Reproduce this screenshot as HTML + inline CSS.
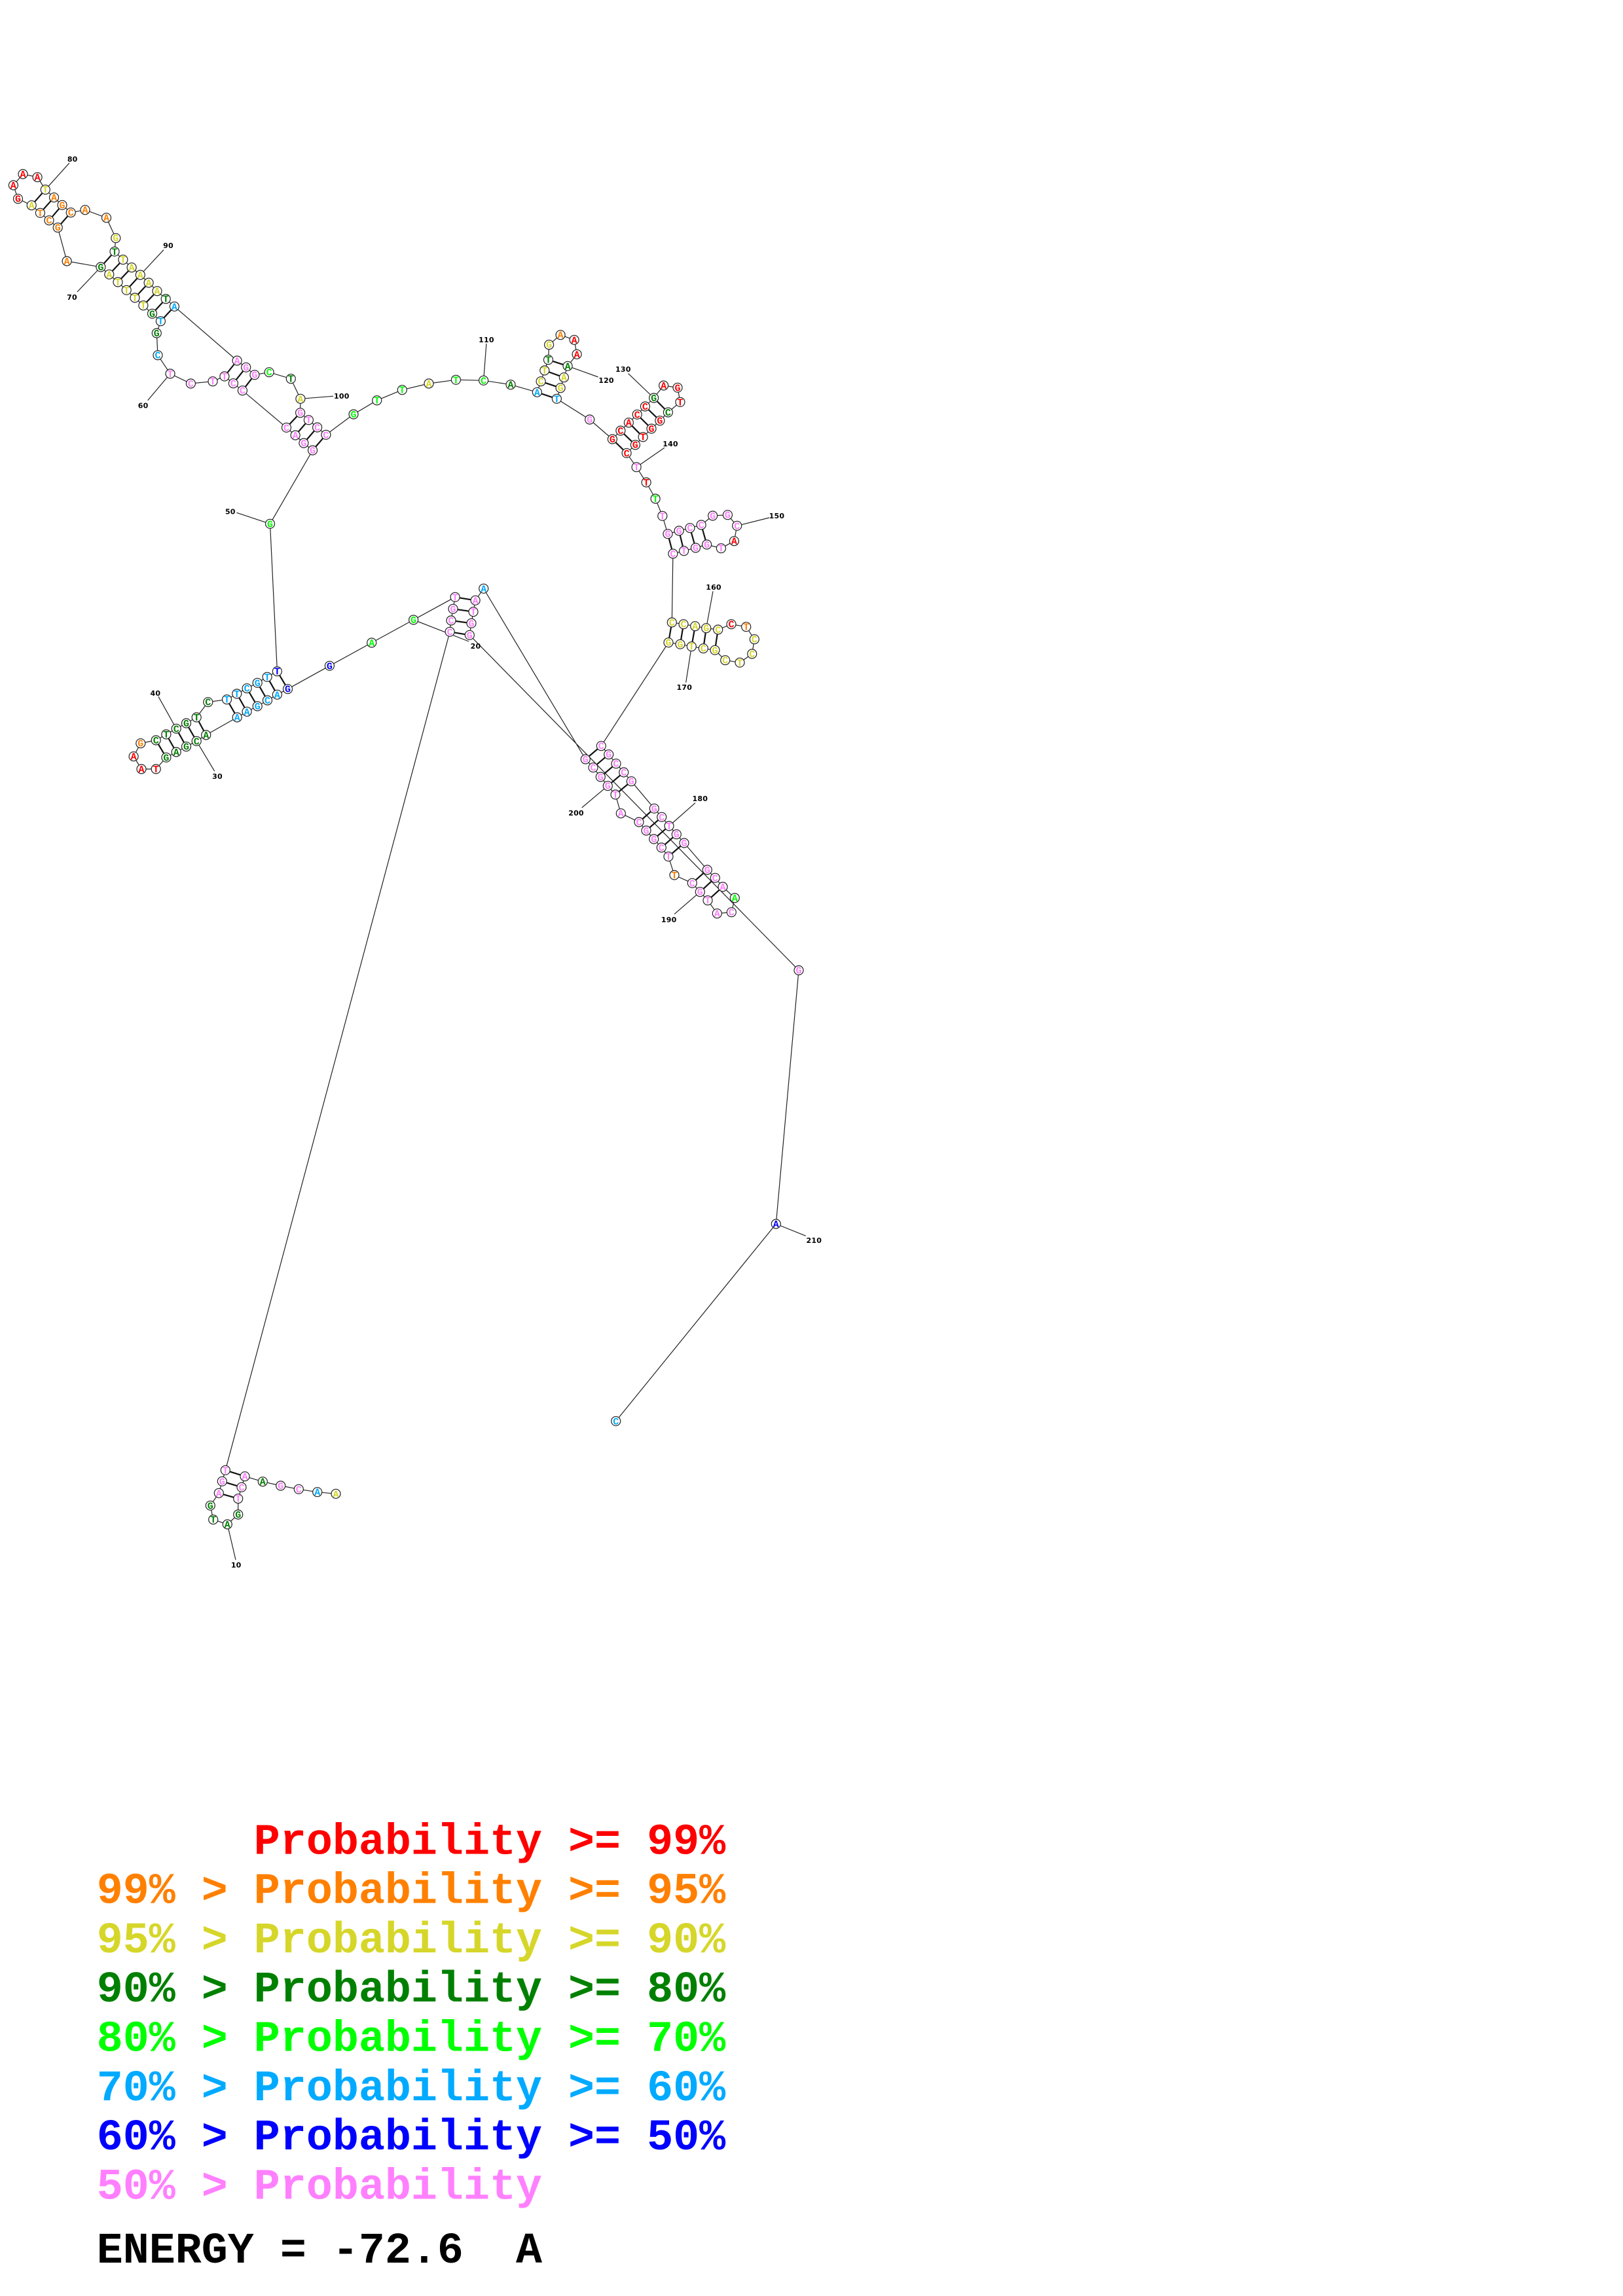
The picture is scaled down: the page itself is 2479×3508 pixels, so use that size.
<!DOCTYPE html>
<html><head><meta charset="utf-8"><style>
html,body{margin:0;padding:0;background:#fff}
svg{display:block}
circle{fill:#fff;stroke:#222;stroke-width:1.2}
.n text{font:bold 15px "Liberation Mono",monospace;text-anchor:middle}
.l text{font:bold 11px "DejaVu Sans",sans-serif;text-anchor:middle;fill:#000;letter-spacing:.2px}
.k text{font:bold 66.7px "Liberation Mono",monospace;white-space:pre}
.r{fill:#f00}.o{fill:#ff8000}.y{fill:#d6d62a}.d{fill:#008000}.g{fill:#0f0}.s{fill:#0af}.b{fill:#00f}.p{fill:#ff80ff}
</style></head><body>
<svg xmlns="http://www.w3.org/2000/svg" width="2479" height="3508" viewBox="0 0 2479 3508">
<rect width="2479" height="3508" fill="#fff"/>
<polyline fill="none" stroke="#222" stroke-width="1.2" points="513,2282.3 484.7,2279.7 456.3,2275.3 428.7,2270 401.3,2263.7 374,2255.7 369,2272.3 363.7,2289.7 363.7,2314 347.3,2329 325.7,2321.7 321.3,2300.3 334.3,2281.3 339.3,2263.3 344.3,2246.3 687.1,965.3 689,948 692,930.3 695.1,912.3 631.6,947 567.7,982 503.4,1017.3 439.5,1052.7 423.4,1061.3 408.5,1070 393.2,1079 377.1,1087.3 362.2,1096 314.7,1123 300.2,1132.3 284.5,1140.7 269.2,1149 253.9,1157.3 238.2,1175 216,1175 204.1,1155.7 214.8,1135.7 238.2,1131 253.9,1122 269.2,1113.3 284.5,1105 300.2,1096 317.8,1072.7 346.5,1068.7 361.8,1060 377.1,1051.7 393.2,1043.3 408.1,1034.3 423.4,1025.7 412.5,800.3 477.5,688 463.9,677 451.1,665 437.5,653.3 370.4,596.7 356.4,585.7 342.9,575 325,582.7 291.4,586 260,571 241,542.7 239.3,509 245.4,490.7 232.5,479.3 218.9,466.7 206,455 193.2,443.3 180,431 166.8,419.3 153.9,408 102.1,399 88.2,347.7 75,336.7 61.4,325.3 48.2,313.7 27.5,303.7 20.4,283 35,266 57.1,270.7 69.3,289.7 82.5,301.7 95,313.3 108.2,324.7 130,320.7 162.5,332.7 176.8,363.7 175,384.3 187.9,396.7 201.1,408.7 214.3,420 227.1,432 240,444.7 253.2,456.7 266.4,468.3 362.1,551 375.7,561.3 388.9,572.7 411.1,568.7 444.3,578.7 458.9,609.3 458.6,630.7 471.4,641.7 484.6,653 497.9,664.3 540,633 575.7,611.7 614.3,595.7 655,586 696.4,580.3 738.6,581.3 780,587.7 820.4,599.3 826.1,582.7 831.8,566 837.5,549.7 838.6,526.7 856.1,511.7 877.1,519.3 881.1,541.3 867.1,559.3 861.4,576.7 856.1,592.7 850.4,609.3 900.7,641 935.4,671 947.9,658 960.4,645.7 973.2,633.3 985.4,621 998.6,608 1013.6,589 1035,592.3 1038.9,614.3 1020.4,630 1007.9,642.7 995,655 982.1,667.7 970.4,679.7 957.1,692.3 972.1,713.7 987.1,737 1001.1,762 1011.8,788.3 1020,815.7 1037.1,811 1053.9,806.7 1071.1,802 1088.6,788 1111.4,786.7 1125.7,803.3 1121.4,826.7 1101.4,837.7 1079.6,832 1062.5,837 1044.6,841.7 1027.9,846 1026.3,951 1044,953.7 1061.7,956.7 1078.7,959.7 1096.7,962 1117,953.7 1139.7,957.7 1152.3,976.7 1148.7,999 1130,1012.3 1107.7,1008.7 1092,993.3 1074.3,990.7 1056.3,987.7 1039,984.3 1021,981.7 918.3,1139.7 929.7,1152.7 941,1166.7 952.7,1180 964.3,1193.7 999.3,1235.3 1010.7,1248.3 1022,1262 1033.3,1274.7 1045,1288 1080.3,1329 1092.3,1341.3 1104,1355 1122.3,1372 1117.3,1393.7 1095.3,1395.7 1081,1375.7 1069.3,1362.7 1057.3,1349.3 1030,1337 1021,1308.7 1010.3,1295 998.7,1282 987,1269 976,1256 948.3,1242.7 940,1214 928.3,1200.7 917.3,1187 906,1172.7 894.3,1160 738.7,899.3 726.1,917.3 723,934.7 720,952.3 717.3,970.3 1220,1482.5 1185.3,1870 940.7,2171.3"/>
<path fill="none" stroke="#111" stroke-width="2.2" d="M374,2255.7L344.3,2246.3M369,2272.3L339.3,2263.3M363.7,2289.7L334.3,2281.3M687.1,965.3L717.3,970.3M689,948L720,952.3M692,930.3L723,934.7M695.1,912.3L726.1,917.3M439.5,1052.7L423.4,1025.7M423.4,1061.3L408.1,1034.3M408.5,1070L393.2,1043.3M393.2,1079L377.1,1051.7M377.1,1087.3L361.8,1060M362.2,1096L346.5,1068.7M314.7,1123L300.2,1096M300.2,1132.3L284.5,1105M284.5,1140.7L269.2,1113.3M269.2,1149L253.9,1122M253.9,1157.3L238.2,1131M477.5,688L497.9,664.3M463.9,677L484.6,653M451.1,665L471.4,641.7M437.5,653.3L458.6,630.7M370.4,596.7L388.9,572.7M356.4,585.7L375.7,561.3M342.9,575L362.1,551M245.4,490.7L266.4,468.3M232.5,479.3L253.2,456.7M218.9,466.7L240,444.7M206,455L227.1,432M193.2,443.3L214.3,420M180,431L201.1,408.7M166.8,419.3L187.9,396.7M153.9,408L175,384.3M88.2,347.7L108.2,324.7M75,336.7L95,313.3M61.4,325.3L82.5,301.7M48.2,313.7L69.3,289.7M820.4,599.3L850.4,609.3M826.1,582.7L856.1,592.7M831.8,566L861.4,576.7M837.5,549.7L867.1,559.3M935.4,671L957.1,692.3M947.9,658L970.4,679.7M960.4,645.7L982.1,667.7M973.2,633.3L995,655M985.4,621L1007.9,642.7M998.6,608L1020.4,630M1020,815.7L1027.9,846M1037.1,811L1044.6,841.7M1053.9,806.7L1062.5,837M1071.1,802L1079.6,832M1026.3,951L1021,981.7M1044,953.7L1039,984.3M1061.7,956.7L1056.3,987.7M1078.7,959.7L1074.3,990.7M1096.7,962L1092,993.3M918.3,1139.7L894.3,1160M929.7,1152.7L906,1172.7M941,1166.7L917.3,1187M952.7,1180L928.3,1200.7M964.3,1193.7L940,1214M999.3,1235.3L976,1256M1010.7,1248.3L987,1269M1022,1262L998.7,1282M1033.3,1274.7L1010.3,1295M1045,1288L1021,1308.7M1080.3,1329L1057.3,1349.3M1092.3,1341.3L1069.3,1362.7M1104,1355L1081,1375.7"/>
<path fill="none" stroke="#222" stroke-width="1.2" d="M347.3,2329L360,2383.3M631.6,947L716,980M300.2,1132.3L327.7,1178.3M269.2,1113.3L242,1064.3M412.5,800.3L361.4,783.3M260,571L225.7,611.7M153.9,408L118,446M69.3,289.7L106,249M214.3,420L250,381.7M458.9,609.3L509,605.3M738.6,581.3L742.9,525M867.1,559.3L913.6,576M998.6,608L959.6,570.7M972.1,713.7L1015,684M1125.7,803.3L1175,791M1078.7,959.7L1089,903.3M1056.3,987.7L1047.7,1042.7M1022,1262L1062,1226.7M1069.3,1362.7L1030,1396.7M928.3,1200.7L888.7,1234M1185.3,1870L1230.7,1888.3"/>
<g>
<circle cx="513" cy="2282.3" r="7"/><circle cx="484.7" cy="2279.7" r="7"/><circle cx="456.3" cy="2275.3" r="7"/><circle cx="428.7" cy="2270" r="7"/><circle cx="401.3" cy="2263.7" r="7"/><circle cx="374" cy="2255.7" r="7"/><circle cx="369" cy="2272.3" r="7"/><circle cx="363.7" cy="2289.7" r="7"/><circle cx="363.7" cy="2314" r="7"/><circle cx="347.3" cy="2329" r="7"/><circle cx="325.7" cy="2321.7" r="7"/><circle cx="321.3" cy="2300.3" r="7"/><circle cx="334.3" cy="2281.3" r="7"/><circle cx="339.3" cy="2263.3" r="7"/><circle cx="344.3" cy="2246.3" r="7"/><circle cx="687.1" cy="965.3" r="7"/><circle cx="689" cy="948" r="7"/><circle cx="692" cy="930.3" r="7"/><circle cx="695.1" cy="912.3" r="7"/><circle cx="631.6" cy="947" r="7"/><circle cx="567.7" cy="982" r="7"/><circle cx="503.4" cy="1017.3" r="7"/><circle cx="439.5" cy="1052.7" r="7"/><circle cx="423.4" cy="1061.3" r="7"/><circle cx="408.5" cy="1070" r="7"/><circle cx="393.2" cy="1079" r="7"/><circle cx="377.1" cy="1087.3" r="7"/><circle cx="362.2" cy="1096" r="7"/><circle cx="314.7" cy="1123" r="7"/><circle cx="300.2" cy="1132.3" r="7"/><circle cx="284.5" cy="1140.7" r="7"/><circle cx="269.2" cy="1149" r="7"/><circle cx="253.9" cy="1157.3" r="7"/><circle cx="238.2" cy="1175" r="7"/><circle cx="216" cy="1175" r="7"/><circle cx="204.1" cy="1155.7" r="7"/><circle cx="214.8" cy="1135.7" r="7"/><circle cx="238.2" cy="1131" r="7"/><circle cx="253.9" cy="1122" r="7"/><circle cx="269.2" cy="1113.3" r="7"/><circle cx="284.5" cy="1105" r="7"/><circle cx="300.2" cy="1096" r="7"/><circle cx="317.8" cy="1072.7" r="7"/><circle cx="346.5" cy="1068.7" r="7"/><circle cx="361.8" cy="1060" r="7"/><circle cx="377.1" cy="1051.7" r="7"/><circle cx="393.2" cy="1043.3" r="7"/><circle cx="408.1" cy="1034.3" r="7"/><circle cx="423.4" cy="1025.7" r="7"/><circle cx="412.5" cy="800.3" r="7"/><circle cx="477.5" cy="688" r="7"/><circle cx="463.9" cy="677" r="7"/><circle cx="451.1" cy="665" r="7"/><circle cx="437.5" cy="653.3" r="7"/><circle cx="370.4" cy="596.7" r="7"/><circle cx="356.4" cy="585.7" r="7"/><circle cx="342.9" cy="575" r="7"/><circle cx="325" cy="582.7" r="7"/><circle cx="291.4" cy="586" r="7"/><circle cx="260" cy="571" r="7"/><circle cx="241" cy="542.7" r="7"/><circle cx="239.3" cy="509" r="7"/><circle cx="245.4" cy="490.7" r="7"/><circle cx="232.5" cy="479.3" r="7"/><circle cx="218.9" cy="466.7" r="7"/><circle cx="206" cy="455" r="7"/><circle cx="193.2" cy="443.3" r="7"/><circle cx="180" cy="431" r="7"/><circle cx="166.8" cy="419.3" r="7"/><circle cx="153.9" cy="408" r="7"/><circle cx="102.1" cy="399" r="7"/><circle cx="88.2" cy="347.7" r="7"/><circle cx="75" cy="336.7" r="7"/><circle cx="61.4" cy="325.3" r="7"/><circle cx="48.2" cy="313.7" r="7"/><circle cx="27.5" cy="303.7" r="7"/><circle cx="20.4" cy="283" r="7"/><circle cx="35" cy="266" r="7"/><circle cx="57.1" cy="270.7" r="7"/><circle cx="69.3" cy="289.7" r="7"/><circle cx="82.5" cy="301.7" r="7"/><circle cx="95" cy="313.3" r="7"/><circle cx="108.2" cy="324.7" r="7"/><circle cx="130" cy="320.7" r="7"/><circle cx="162.5" cy="332.7" r="7"/><circle cx="176.8" cy="363.7" r="7"/><circle cx="175" cy="384.3" r="7"/><circle cx="187.9" cy="396.7" r="7"/><circle cx="201.1" cy="408.7" r="7"/><circle cx="214.3" cy="420" r="7"/><circle cx="227.1" cy="432" r="7"/><circle cx="240" cy="444.7" r="7"/><circle cx="253.2" cy="456.7" r="7"/><circle cx="266.4" cy="468.3" r="7"/><circle cx="362.1" cy="551" r="7"/><circle cx="375.7" cy="561.3" r="7"/><circle cx="388.9" cy="572.7" r="7"/><circle cx="411.1" cy="568.7" r="7"/><circle cx="444.3" cy="578.7" r="7"/><circle cx="458.9" cy="609.3" r="7"/><circle cx="458.6" cy="630.7" r="7"/><circle cx="471.4" cy="641.7" r="7"/><circle cx="484.6" cy="653" r="7"/><circle cx="497.9" cy="664.3" r="7"/><circle cx="540" cy="633" r="7"/><circle cx="575.7" cy="611.7" r="7"/><circle cx="614.3" cy="595.7" r="7"/><circle cx="655" cy="586" r="7"/><circle cx="696.4" cy="580.3" r="7"/><circle cx="738.6" cy="581.3" r="7"/><circle cx="780" cy="587.7" r="7"/><circle cx="820.4" cy="599.3" r="7"/><circle cx="826.1" cy="582.7" r="7"/><circle cx="831.8" cy="566" r="7"/><circle cx="837.5" cy="549.7" r="7"/><circle cx="838.6" cy="526.7" r="7"/><circle cx="856.1" cy="511.7" r="7"/><circle cx="877.1" cy="519.3" r="7"/><circle cx="881.1" cy="541.3" r="7"/><circle cx="867.1" cy="559.3" r="7"/><circle cx="861.4" cy="576.7" r="7"/><circle cx="856.1" cy="592.7" r="7"/><circle cx="850.4" cy="609.3" r="7"/><circle cx="900.7" cy="641" r="7"/><circle cx="935.4" cy="671" r="7"/><circle cx="947.9" cy="658" r="7"/><circle cx="960.4" cy="645.7" r="7"/><circle cx="973.2" cy="633.3" r="7"/><circle cx="985.4" cy="621" r="7"/><circle cx="998.6" cy="608" r="7"/><circle cx="1013.6" cy="589" r="7"/><circle cx="1035" cy="592.3" r="7"/><circle cx="1038.9" cy="614.3" r="7"/><circle cx="1020.4" cy="630" r="7"/><circle cx="1007.9" cy="642.7" r="7"/><circle cx="995" cy="655" r="7"/><circle cx="982.1" cy="667.7" r="7"/><circle cx="970.4" cy="679.7" r="7"/><circle cx="957.1" cy="692.3" r="7"/><circle cx="972.1" cy="713.7" r="7"/><circle cx="987.1" cy="737" r="7"/><circle cx="1001.1" cy="762" r="7"/><circle cx="1011.8" cy="788.3" r="7"/><circle cx="1020" cy="815.7" r="7"/><circle cx="1037.1" cy="811" r="7"/><circle cx="1053.9" cy="806.7" r="7"/><circle cx="1071.1" cy="802" r="7"/><circle cx="1088.6" cy="788" r="7"/><circle cx="1111.4" cy="786.7" r="7"/><circle cx="1125.7" cy="803.3" r="7"/><circle cx="1121.4" cy="826.7" r="7"/><circle cx="1101.4" cy="837.7" r="7"/><circle cx="1079.6" cy="832" r="7"/><circle cx="1062.5" cy="837" r="7"/><circle cx="1044.6" cy="841.7" r="7"/><circle cx="1027.9" cy="846" r="7"/><circle cx="1026.3" cy="951" r="7"/><circle cx="1044" cy="953.7" r="7"/><circle cx="1061.7" cy="956.7" r="7"/><circle cx="1078.7" cy="959.7" r="7"/><circle cx="1096.7" cy="962" r="7"/><circle cx="1117" cy="953.7" r="7"/><circle cx="1139.7" cy="957.7" r="7"/><circle cx="1152.3" cy="976.7" r="7"/><circle cx="1148.7" cy="999" r="7"/><circle cx="1130" cy="1012.3" r="7"/><circle cx="1107.7" cy="1008.7" r="7"/><circle cx="1092" cy="993.3" r="7"/><circle cx="1074.3" cy="990.7" r="7"/><circle cx="1056.3" cy="987.7" r="7"/><circle cx="1039" cy="984.3" r="7"/><circle cx="1021" cy="981.7" r="7"/><circle cx="918.3" cy="1139.7" r="7"/><circle cx="929.7" cy="1152.7" r="7"/><circle cx="941" cy="1166.7" r="7"/><circle cx="952.7" cy="1180" r="7"/><circle cx="964.3" cy="1193.7" r="7"/><circle cx="999.3" cy="1235.3" r="7"/><circle cx="1010.7" cy="1248.3" r="7"/><circle cx="1022" cy="1262" r="7"/><circle cx="1033.3" cy="1274.7" r="7"/><circle cx="1045" cy="1288" r="7"/><circle cx="1080.3" cy="1329" r="7"/><circle cx="1092.3" cy="1341.3" r="7"/><circle cx="1104" cy="1355" r="7"/><circle cx="1122.3" cy="1372" r="7"/><circle cx="1117.3" cy="1393.7" r="7"/><circle cx="1095.3" cy="1395.7" r="7"/><circle cx="1081" cy="1375.7" r="7"/><circle cx="1069.3" cy="1362.7" r="7"/><circle cx="1057.3" cy="1349.3" r="7"/><circle cx="1030" cy="1337" r="7"/><circle cx="1021" cy="1308.7" r="7"/><circle cx="1010.3" cy="1295" r="7"/><circle cx="998.7" cy="1282" r="7"/><circle cx="987" cy="1269" r="7"/><circle cx="976" cy="1256" r="7"/><circle cx="948.3" cy="1242.7" r="7"/><circle cx="940" cy="1214" r="7"/><circle cx="928.3" cy="1200.7" r="7"/><circle cx="917.3" cy="1187" r="7"/><circle cx="906" cy="1172.7" r="7"/><circle cx="894.3" cy="1160" r="7"/><circle cx="738.7" cy="899.3" r="7"/><circle cx="726.1" cy="917.3" r="7"/><circle cx="723" cy="934.7" r="7"/><circle cx="720" cy="952.3" r="7"/><circle cx="717.3" cy="970.3" r="7"/><circle cx="1220" cy="1482.5" r="7"/><circle cx="1185.3" cy="1870" r="7"/><circle cx="940.7" cy="2171.3" r="7"/>
</g>
<g class="n">
<text class="y" x="513" y="2287.3">A</text><text class="s" x="484.7" y="2284.7">A</text><text class="p" x="456.3" y="2280.3">C</text><text class="p" x="428.7" y="2275">G</text><text class="d" x="401.3" y="2268.7">A</text><text class="p" x="374" y="2260.7">A</text><text class="p" x="369" y="2277.3">C</text><text class="p" x="363.7" y="2294.7">T</text><text class="d" x="363.7" y="2319">G</text><text class="d" x="347.3" y="2334">A</text><text class="d" x="325.7" y="2326.7">T</text><text class="d" x="321.3" y="2305.3">G</text><text class="p" x="334.3" y="2286.3">A</text><text class="p" x="339.3" y="2268.3">G</text><text class="p" x="344.3" y="2251.3">T</text><text class="p" x="687.1" y="970.3">C</text><text class="p" x="689" y="953">C</text><text class="p" x="692" y="935.3">G</text><text class="p" x="695.1" y="917.3">T</text><text class="g" x="631.6" y="952">G</text><text class="g" x="567.7" y="987">A</text><text class="b" x="503.4" y="1022.3">G</text><text class="b" x="439.5" y="1057.7">G</text><text class="s" x="423.4" y="1066.3">A</text><text class="s" x="408.5" y="1075">C</text><text class="s" x="393.2" y="1084">G</text><text class="s" x="377.1" y="1092.3">A</text><text class="s" x="362.2" y="1101">A</text><text class="d" x="314.7" y="1128">A</text><text class="d" x="300.2" y="1137.3">C</text><text class="d" x="284.5" y="1145.7">G</text><text class="d" x="269.2" y="1154">A</text><text class="d" x="253.9" y="1162.3">G</text><text class="r" x="238.2" y="1180">T</text><text class="r" x="216" y="1180">A</text><text class="r" x="204.1" y="1160.7">A</text><text class="o" x="214.8" y="1140.7">G</text><text class="d" x="238.2" y="1136">C</text><text class="d" x="253.9" y="1127">T</text><text class="d" x="269.2" y="1118.3">C</text><text class="d" x="284.5" y="1110">G</text><text class="d" x="300.2" y="1101">T</text><text class="d" x="317.8" y="1077.7">C</text><text class="s" x="346.5" y="1073.7">T</text><text class="s" x="361.8" y="1065">T</text><text class="s" x="377.1" y="1056.7">C</text><text class="s" x="393.2" y="1048.3">G</text><text class="s" x="408.1" y="1039.3">T</text><text class="b" x="423.4" y="1030.7">T</text><text class="g" x="412.5" y="805.3">G</text><text class="p" x="477.5" y="693">G</text><text class="p" x="463.9" y="682">G</text><text class="p" x="451.1" y="670">A</text><text class="p" x="437.5" y="658.3">C</text><text class="p" x="370.4" y="601.7">C</text><text class="p" x="356.4" y="590.7">C</text><text class="p" x="342.9" y="580">T</text><text class="p" x="325" y="587.7">T</text><text class="p" x="291.4" y="591">C</text><text class="p" x="260" y="576">T</text><text class="s" x="241" y="547.7">C</text><text class="d" x="239.3" y="514">G</text><text class="s" x="245.4" y="495.7">T</text><text class="d" x="232.5" y="484.3">G</text><text class="y" x="218.9" y="471.7">T</text><text class="y" x="206" y="460">T</text><text class="y" x="193.2" y="448.3">T</text><text class="y" x="180" y="436">T</text><text class="y" x="166.8" y="424.3">A</text><text class="d" x="153.9" y="413">G</text><text class="o" x="102.1" y="404">A</text><text class="o" x="88.2" y="352.7">G</text><text class="o" x="75" y="341.7">C</text><text class="o" x="61.4" y="330.3">T</text><text class="y" x="48.2" y="318.7">A</text><text class="r" x="27.5" y="308.7">G</text><text class="r" x="20.4" y="288">A</text><text class="r" x="35" y="271">A</text><text class="r" x="57.1" y="275.7">A</text><text class="y" x="69.3" y="294.7">T</text><text class="o" x="82.5" y="306.7">A</text><text class="o" x="95" y="318.3">G</text><text class="o" x="108.2" y="329.7">C</text><text class="o" x="130" y="325.7">A</text><text class="o" x="162.5" y="337.7">A</text><text class="y" x="176.8" y="368.7">G</text><text class="d" x="175" y="389.3">T</text><text class="y" x="187.9" y="401.7">T</text><text class="y" x="201.1" y="413.7">A</text><text class="y" x="214.3" y="425">A</text><text class="y" x="227.1" y="437">A</text><text class="y" x="240" y="449.7">A</text><text class="d" x="253.2" y="461.7">T</text><text class="s" x="266.4" y="473.3">A</text><text class="p" x="362.1" y="556">A</text><text class="p" x="375.7" y="566.3">G</text><text class="p" x="388.9" y="577.7">G</text><text class="g" x="411.1" y="573.7">C</text><text class="d" x="444.3" y="583.7">T</text><text class="y" x="458.9" y="614.3">A</text><text class="p" x="458.6" y="635.7">G</text><text class="p" x="471.4" y="646.7">T</text><text class="p" x="484.6" y="658">C</text><text class="p" x="497.9" y="669.3">C</text><text class="g" x="540" y="638">G</text><text class="g" x="575.7" y="616.7">T</text><text class="g" x="614.3" y="600.7">T</text><text class="y" x="655" y="591">A</text><text class="g" x="696.4" y="585.3">T</text><text class="g" x="738.6" y="586.3">C</text><text class="d" x="780" y="592.7">A</text><text class="s" x="820.4" y="604.3">A</text><text class="y" x="826.1" y="587.7">C</text><text class="y" x="831.8" y="571">T</text><text class="d" x="837.5" y="554.7">T</text><text class="y" x="838.6" y="531.7">G</text><text class="o" x="856.1" y="516.7">A</text><text class="r" x="877.1" y="524.3">A</text><text class="r" x="881.1" y="546.3">A</text><text class="d" x="867.1" y="564.3">A</text><text class="y" x="861.4" y="581.7">A</text><text class="y" x="856.1" y="597.7">G</text><text class="s" x="850.4" y="614.3">T</text><text class="p" x="900.7" y="646">G</text><text class="r" x="935.4" y="676">G</text><text class="r" x="947.9" y="663">C</text><text class="r" x="960.4" y="650.7">A</text><text class="r" x="973.2" y="638.3">C</text><text class="r" x="985.4" y="626">C</text><text class="d" x="998.6" y="613">G</text><text class="r" x="1013.6" y="594">A</text><text class="r" x="1035" y="597.3">G</text><text class="r" x="1038.9" y="619.3">T</text><text class="d" x="1020.4" y="635">C</text><text class="r" x="1007.9" y="647.7">G</text><text class="r" x="995" y="660">G</text><text class="r" x="982.1" y="672.7">T</text><text class="r" x="970.4" y="684.7">G</text><text class="r" x="957.1" y="697.3">C</text><text class="p" x="972.1" y="718.7">T</text><text class="r" x="987.1" y="742">T</text><text class="g" x="1001.1" y="767">T</text><text class="p" x="1011.8" y="793.3">T</text><text class="p" x="1020" y="820.7">G</text><text class="p" x="1037.1" y="816">G</text><text class="p" x="1053.9" y="811.7">C</text><text class="p" x="1071.1" y="807">C</text><text class="p" x="1088.6" y="793">G</text><text class="p" x="1111.4" y="791.7">G</text><text class="p" x="1125.7" y="808.3">C</text><text class="r" x="1121.4" y="831.7">A</text><text class="p" x="1101.4" y="842.7">T</text><text class="p" x="1079.6" y="837">G</text><text class="p" x="1062.5" y="842">G</text><text class="p" x="1044.6" y="846.7">T</text><text class="p" x="1027.9" y="851">C</text><text class="y" x="1026.3" y="956">C</text><text class="y" x="1044" y="958.7">C</text><text class="y" x="1061.7" y="961.7">A</text><text class="y" x="1078.7" y="964.7">G</text><text class="y" x="1096.7" y="967">C</text><text class="r" x="1117" y="958.7">C</text><text class="o" x="1139.7" y="962.7">T</text><text class="y" x="1152.3" y="981.7">C</text><text class="y" x="1148.7" y="1004">C</text><text class="y" x="1130" y="1017.3">T</text><text class="y" x="1107.7" y="1013.7">C</text><text class="y" x="1092" y="998.3">G</text><text class="y" x="1074.3" y="995.7">C</text><text class="y" x="1056.3" y="992.7">T</text><text class="y" x="1039" y="989.3">G</text><text class="y" x="1021" y="986.7">G</text><text class="p" x="918.3" y="1144.7">C</text><text class="p" x="929.7" y="1157.7">G</text><text class="p" x="941" y="1171.7">C</text><text class="p" x="952.7" y="1185">C</text><text class="p" x="964.3" y="1198.7">G</text><text class="p" x="999.3" y="1240.3">G</text><text class="p" x="1010.7" y="1253.3">C</text><text class="p" x="1022" y="1267">T</text><text class="p" x="1033.3" y="1279.7">G</text><text class="p" x="1045" y="1293">G</text><text class="p" x="1080.3" y="1334">G</text><text class="p" x="1092.3" y="1346.3">C</text><text class="p" x="1104" y="1360">A</text><text class="g" x="1122.3" y="1377">A</text><text class="p" x="1117.3" y="1398.7">C</text><text class="p" x="1095.3" y="1400.7">A</text><text class="p" x="1081" y="1380.7">T</text><text class="p" x="1069.3" y="1367.7">G</text><text class="p" x="1057.3" y="1354.3">C</text><text class="o" x="1030" y="1342">T</text><text class="p" x="1021" y="1313.7">T</text><text class="p" x="1010.3" y="1300">C</text><text class="p" x="998.7" y="1287">G</text><text class="p" x="987" y="1274">G</text><text class="p" x="976" y="1261">C</text><text class="p" x="948.3" y="1247.7">A</text><text class="p" x="940" y="1219">T</text><text class="p" x="928.3" y="1205.7">G</text><text class="p" x="917.3" y="1192">G</text><text class="p" x="906" y="1177.7">C</text><text class="p" x="894.3" y="1165">G</text><text class="s" x="738.7" y="904.3">A</text><text class="p" x="726.1" y="922.3">A</text><text class="p" x="723" y="939.7">T</text><text class="p" x="720" y="957.3">G</text><text class="p" x="717.3" y="975.3">G</text><text class="p" x="1220" y="1487.5">G</text><text class="b" x="1185.3" y="1875">A</text><text class="s" x="940.7" y="2176.3">C</text>
</g>
<g class="l">
<text x="360.7" y="2395">10</text><text x="726.5" y="991">20</text><text x="332" y="1190">30</text><text x="237.4" y="1063">40</text><text x="351.8" y="785.3">50</text><text x="218.6" y="623.3">60</text><text x="110" y="458">70</text><text x="110.7" y="247">80</text><text x="257" y="379">90</text><text x="521.8" y="609">100</text><text x="742.9" y="523">110</text><text x="926" y="585">120</text><text x="951.8" y="568">130</text><text x="1024" y="682">140</text><text x="1186.4" y="792">150</text><text x="1090" y="901">160</text><text x="1045.3" y="1054">170</text><text x="1069.3" y="1224">180</text><text x="1021.7" y="1409">190</text><text x="880" y="1246">200</text><text x="1243.3" y="1899">210</text>
</g>
<g class="k">
<text class="r" x="147.7" y="2832.3" xml:space="preserve">      Probability &gt;= 99%</text>
<text class="o" x="147.7" y="2907.6" xml:space="preserve">99% &gt; Probability &gt;= 95%</text>
<text class="y" x="147.7" y="2982.9" xml:space="preserve">95% &gt; Probability &gt;= 90%</text>
<text class="d" x="147.7" y="3058.2" xml:space="preserve">90% &gt; Probability &gt;= 80%</text>
<text class="g" x="147.7" y="3133.5" xml:space="preserve">80% &gt; Probability &gt;= 70%</text>
<text class="s" x="147.7" y="3208.8" xml:space="preserve">70% &gt; Probability &gt;= 60%</text>
<text class="b" x="147.7" y="3284.1" xml:space="preserve">60% &gt; Probability &gt;= 50%</text>
<text class="p" x="147.7" y="3359.4" xml:space="preserve">50% &gt; Probability</text>
<text fill="#000" x="147.7" y="3457" xml:space="preserve">ENERGY = -72.6  A</text>
</g>
</svg>
</body></html>
